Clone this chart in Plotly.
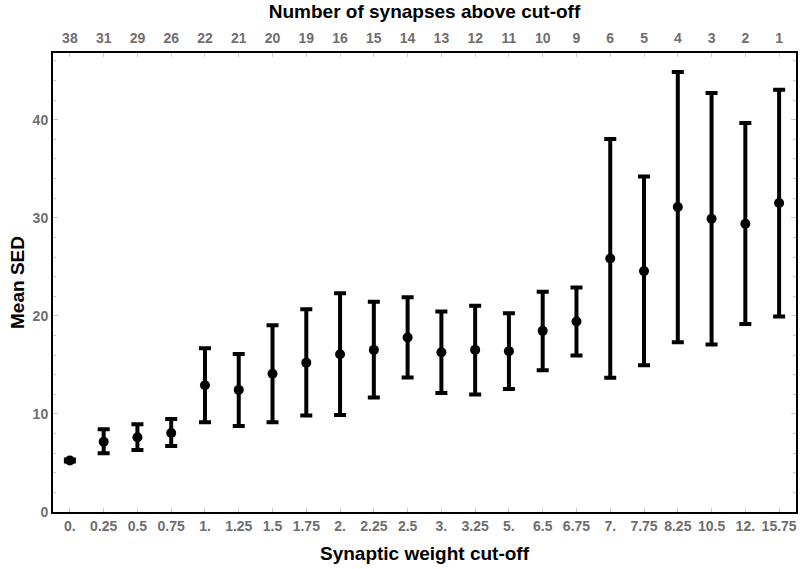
import plotly.graph_objects as go

# synaptic weight cut-off (bottom axis) and synapse counts (top axis)
cutoffs = ["0.", "0.25", "0.5", "0.75", "1.", "1.25", "1.5", "1.75", "2.", "2.25", "2.5",
           "3.", "3.25", "5.", "6.5", "6.75", "7.", "7.75", "8.25", "10.5", "12.", "15.75"]
n_synapses = ["38", "31", "29", "26", "22", "21", "20", "19", "16", "15", "14",
              "13", "12", "11", "10", "9", "6", "5", "4", "3", "2", "1"]

mean_sed = [5.25, 7.17, 7.62, 8.06, 12.93, 12.45, 14.1, 15.23, 16.09, 16.53, 17.79,
            16.29, 16.53, 16.4, 18.47, 19.42, 25.85, 24.56, 31.09, 29.9, 29.39, 31.5]
upper = [5.35, 8.44, 8.95, 9.49, 16.7, 16.1, 19.05, 20.68, 22.31, 21.43, 21.9,
         20.44, 21.02, 20.27, 22.45, 22.89, 38.03, 34.2, 44.87, 42.72, 39.66, 43.06]
lower = [5.15, 5.99, 6.33, 6.73, 9.15, 8.78, 9.15, 9.83, 9.9, 11.67, 13.71,
         12.14, 11.97, 12.55, 14.46, 15.95, 13.7, 14.97, 17.32, 17.07, 19.18, 19.93]

err_up = [u - m for u, m in zip(upper, mean_sed)]
err_down = [m - l for m, l in zip(mean_sed, lower)]

FONT = "Liberation Sans, Arial, sans-serif"
TICK_GRAY = "#6e6e6e"
TICK_MARK = "#c8c8c8"

fig = go.Figure()

fig.add_trace(go.Scatter(
    x=cutoffs, y=mean_sed, mode="markers",
    marker=dict(color="black", size=10),
    error_y=dict(type="data", symmetric=False, array=err_up, arrayminus=err_down,
                 color="black", thickness=4, width=6),
    showlegend=False, hoverinfo="x+y",
))

# invisible trace so the top axis carries the synapse counts
fig.add_trace(go.Scatter(
    x=n_synapses, y=mean_sed, xaxis="x2", mode="markers",
    marker=dict(opacity=0), showlegend=False, hoverinfo="skip",
))

tickfont = dict(family=FONT, size=14, color=TICK_GRAY, weight="bold")
titlefont = dict(family=FONT, size=19, color="black", weight="bold")

fig.update_layout(
    width=800, height=569,
    margin=dict(l=53, r=4, t=53, b=57),
    plot_bgcolor="white", paper_bgcolor="white",
    xaxis=dict(
        type="category", range=[-0.5, 21.5], automargin=False,
        showline=True, linecolor="black", linewidth=2, mirror=True,
        ticks="inside", ticklen=4, tickcolor=TICK_MARK, tickwidth=1,
        showgrid=False, zeroline=False, tickfont=tickfont, tickangle=0,
        title=dict(text="Synaptic weight cut-off", font=titlefont, standoff=14),
    ),
    xaxis2=dict(
        type="category", range=[-0.5, 21.5], overlaying="x", side="top", anchor="y",
        automargin=False, tickangle=0, ticklabelstandoff=6,
        ticks="inside", ticklen=4, tickcolor=TICK_MARK, tickwidth=1,
        showgrid=False, zeroline=False, tickfont=tickfont,
        title=dict(text="Number of synapses above cut-off", font=titlefont, standoff=6),
    ),
    yaxis=dict(
        range=[0, 46.8], dtick=10, tick0=0, automargin=False,
        showline=True, linecolor="black", linewidth=2, mirror="ticks",
        ticks="inside", ticklen=5, tickcolor=TICK_MARK, tickwidth=1,
        minor=dict(dtick=2, ticks="inside", ticklen=3, tickcolor=TICK_MARK),
        showgrid=False, zeroline=False, tickfont=tickfont,
        title=dict(text="Mean SED", font=titlefont, standoff=3),
    ),
)

# page body has a default 8px margin; drop it so the 800x569 figure fits the window
fig.write_html("out.html", config={"displayModeBar": False},
               post_script="document.body.style.margin = '0';")
